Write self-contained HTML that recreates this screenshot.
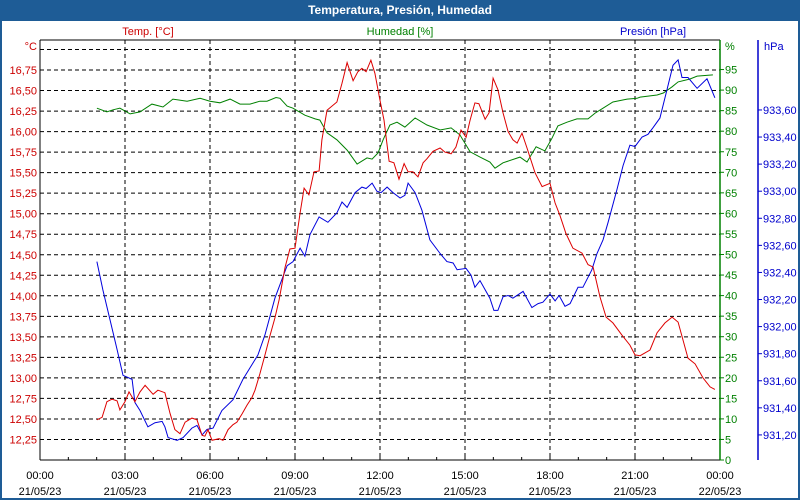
<!DOCTYPE html>
<html><head><meta charset="utf-8"><style>
html,body{margin:0;padding:0;background:#1e5c96;}
svg{display:block;font-family:"Liberation Sans",sans-serif;}
</style></head><body>
<svg id="chart" width="800" height="500" viewBox="0 0 800 500" xmlns="http://www.w3.org/2000/svg">
<rect x="0" y="0" width="800" height="500" fill="#1e5c96"/>
<rect x="2" y="21" width="796" height="477" fill="#ffffff"/>
<text x="400" y="14" text-anchor="middle" fill="#ffffff" font-size="12" font-weight="bold">Temperatura, Presión, Humedad</text>
<text x="148" y="35" text-anchor="middle" fill="#cc0000" font-size="11">Temp. [°C]</text>
<text x="400" y="35" text-anchor="middle" fill="#008000" font-size="11">Humedad [%]</text>
<text x="653" y="35" text-anchor="middle" fill="#0000cc" font-size="11">Presión [hPa]</text>
<text x="37" y="50" text-anchor="end" fill="#cc0000" font-size="11">°C</text>
<text x="725" y="50" fill="#008000" font-size="11">%</text>
<text x="764" y="50" fill="#0000cc" font-size="11">hPa</text>
<g id="grid"></g>
<g id="axes"></g>
<g id="series"></g>
</svg>
<script>
const tempTimes=[2.01,2.19,2.36,2.54,2.72,2.82,3.00,3.14,3.35,3.53,3.71,3.99,4.16,4.41,4.59,4.76,4.94,5.12,5.36,5.54,5.72,5.82,5.93,6.07,6.32,6.46,6.64,6.81,6.95,7.13,7.31,7.48,7.59,7.76,7.94,8.12,8.29,8.44,8.65,8.82,9.00,9.18,9.32,9.49,9.67,9.85,9.95,10.13,10.48,10.66,10.84,11.05,11.22,11.36,11.51,11.68,11.82,12.00,12.14,12.32,12.49,12.67,12.85,12.99,13.16,13.34,13.52,13.66,13.87,14.12,14.29,14.51,14.68,14.86,15.04,15.18,15.35,15.49,15.71,15.85,15.99,16.16,16.34,16.52,16.69,16.84,17.01,17.19,17.47,17.72,18.00,18.18,18.35,18.56,18.81,19.13,19.34,19.52,19.76,19.98,20.22,20.54,20.82,21.00,21.18,21.53,21.78,22.06,22.31,22.52,22.87,23.12,23.40,23.65,23.82];
const tempValues=[12.49,12.52,12.71,12.74,12.72,12.61,12.71,12.83,12.71,12.83,12.91,12.80,12.85,12.82,12.57,12.37,12.32,12.46,12.51,12.49,12.30,12.29,12.37,12.24,12.26,12.24,12.37,12.43,12.46,12.56,12.67,12.76,12.85,13.05,13.28,13.52,13.73,13.95,14.35,14.57,14.58,15.01,15.31,15.23,15.51,15.52,15.90,16.26,16.36,16.59,16.84,16.62,16.73,16.77,16.73,16.87,16.71,16.38,16.14,15.64,15.62,15.42,15.61,15.51,15.51,15.45,15.62,15.67,15.76,15.80,15.75,15.73,15.81,16.02,15.93,16.14,16.35,16.34,16.15,16.23,16.65,16.51,16.23,16.00,15.90,15.86,15.98,15.80,15.50,15.33,15.37,15.13,14.98,14.76,14.58,14.52,14.38,14.35,13.99,13.74,13.67,13.52,13.40,13.28,13.27,13.34,13.55,13.67,13.74,13.68,13.24,13.17,13.00,12.89,12.86];
const humTimes=[2.01,2.36,2.58,2.82,3.18,3.53,3.95,4.34,4.69,5.19,5.65,6.00,6.35,6.71,7.06,7.41,7.76,8.01,8.33,8.47,8.72,8.93,9.35,9.71,9.88,10.13,10.48,10.84,11.19,11.54,11.72,11.93,12.11,12.35,12.60,12.88,13.24,13.66,14.12,14.51,14.82,15.18,15.53,15.88,16.06,16.34,16.94,17.19,17.51,17.82,18.07,18.28,18.60,18.95,19.34,19.59,19.87,20.22,20.72,21.07,21.18,21.78,22.00,22.31,22.52,22.94,23.19,23.75];
const humValues=[85.6,84.7,85.2,85.6,84.2,84.7,86.6,85.9,87.8,87.3,88.0,87.3,86.9,87.8,86.6,86.6,87.3,87.3,88.2,88.0,86.1,85.6,83.9,83.0,82.7,79.6,77.9,75.4,72.0,73.5,73.2,74.7,77.9,81.5,82.2,81.0,83.2,81.5,80.3,80.8,79.1,75.0,73.7,72.5,71.0,72.3,73.7,72.5,76.2,75.2,78.3,81.3,82.2,83.0,83.0,84.4,85.6,87.1,87.8,88.0,88.3,88.8,89.3,90.8,92.0,92.7,93.4,93.7];
const presTimes=[2.01,2.22,2.47,2.72,2.93,3.25,3.35,3.53,3.81,4.06,4.31,4.41,4.52,4.84,5.05,5.36,5.54,5.72,5.89,6.11,6.42,6.81,7.16,7.69,7.94,8.29,8.47,8.72,8.93,9.18,9.35,9.53,9.85,10.16,10.48,10.66,10.84,11.12,11.36,11.51,11.72,11.89,12.04,12.25,12.46,12.71,12.88,12.99,13.24,13.48,13.76,14.12,14.36,14.58,14.72,15.04,15.21,15.35,15.53,15.88,16.02,16.16,16.34,16.52,16.69,17.05,17.36,17.58,17.75,18.00,18.18,18.32,18.53,18.71,18.99,19.16,19.48,19.66,19.87,20.05,20.36,20.58,20.82,21.00,21.25,21.46,21.64,21.88,22.13,22.34,22.52,22.66,22.87,23.19,23.54,23.82];
const presValues=[932.48,932.27,932.05,931.83,931.64,931.61,931.44,931.38,931.26,931.29,931.30,931.26,931.18,931.16,931.18,931.25,931.27,931.20,931.24,931.25,931.38,931.46,931.61,931.79,931.94,932.21,932.31,932.45,932.48,932.58,932.52,932.68,932.81,932.77,932.84,932.92,932.88,932.99,933.03,933.02,933.06,933.00,932.99,933.03,932.99,932.95,932.97,933.06,932.99,932.86,932.64,932.54,932.48,932.47,932.42,932.43,932.38,932.29,932.34,932.21,932.12,932.12,932.22,932.23,932.21,932.26,932.14,932.17,932.18,932.24,932.19,932.23,932.15,932.17,932.29,932.29,932.42,932.54,932.64,932.77,933.01,933.19,933.34,933.33,933.40,933.42,933.47,933.54,933.75,933.93,933.97,933.84,933.84,933.76,933.83,933.69];
const tempTicks=["12,25","12,50","12,75","13,00","13,25","13,50","13,75","14,00","14,25","14,50","14,75","15,00","15,25","15,50","15,75","16,00","16,25","16,50","16,75"];
const humTicks=["0","5","10","15","20","25","30","35","40","45","50","55","60","65","70","75","80","85","90","95"];
const presTicks=["931,20","931,40","931,60","931,80","932,00","932,20","932,40","932,60","932,80","933,00","933,20","933,40","933,60"];
const timeTicks=["00:00","03:00","06:00","09:00","12:00","15:00","18:00","21:00","00:00"];
const dateTicks=["21/05/23","21/05/23","21/05/23","21/05/23","21/05/23","21/05/23","21/05/23","21/05/23","22/05/23"];

const X0=40,X1=720,YB=460;
const xs=t=>X0+t*(X1-X0)/24;
const yT=v=>YB-(v-12)*82.1;
const yH=v=>YB-v*4.11;
const yP=v=>462-(v-931)*135.4;
const num=s=>parseFloat(s.replace(',','.'));
const NS='http://www.w3.org/2000/svg';
function mk(tag,attrs,parent,txt){const e=document.createElementNS(NS,tag);for(const k in attrs)e.setAttribute(k,attrs[k]);if(txt!==undefined)e.textContent=txt;parent.appendChild(e);return e;}
const grid=document.getElementById('grid'),axes=document.getElementById('axes'),series=document.getElementById('series');

// horizontal grid (temperature 12.25..17.00)
for(let i=1;i<=20;i++){const y=yT(12+i*0.25);
 const l=mk('line',{x1:X0,x2:X1,y1:y,y2:y,stroke:'#000','stroke-width':1,'stroke-dasharray':'4,3'},grid);
 
 }
// vertical grid
for(let h=3;h<24;h+=3){const x=xs(h);
 const l=mk('line',{x1:x,x2:x,y1:40,y2:YB,stroke:'#000','stroke-width':1,'stroke-dasharray':'4,3'},grid);
 
 }
// axis lines
let a=mk('line',{x1:X0,x2:X0,y1:40,y2:YB,stroke:'#000'},axes);


a=mk('line',{x1:X0,x2:X1,y1:40,y2:40,stroke:'#000'},axes);


a=mk('line',{x1:X0,x2:X1,y1:YB,y2:YB,stroke:'#000'},axes);


a=mk('line',{x1:X1,x2:X1,y1:40,y2:YB,stroke:'#008000','stroke-width':1.5},axes);


a=mk('line',{x1:758,x2:758,y1:40,y2:YB,stroke:'#0000cc','stroke-width':1.5},axes);


// x minor ticks
for(let h=1;h<24;h++){const x=xs(h);
 const t=mk('line',{x1:x,x2:x,y1:YB,y2:YB-3,stroke:'#000'},axes);
 
 }
// x labels
timeTicks.forEach((s,i)=>{const x=xs(i*3);
 const t=mk('text',{x:x,y:479,'text-anchor':'middle','font-size':11,fill:'#000'},axes,s);
 
 
 const d=mk('text',{x:x,y:495,'text-anchor':'middle','font-size':11,fill:'#000'},axes,dateTicks[i]);
 
 });
// temp labels
tempTicks.forEach(s=>{const t=mk('text',{x:37,y:yT(num(s))+4,'text-anchor':'end','font-size':11,fill:'#cc0000'},axes,s);
 
 });
// humidity labels
humTicks.forEach(s=>{const y=yH(num(s));
 const k=mk('line',{x1:X1,x2:X1+4,y1:y,y2:y,stroke:'#008000'},axes);
 
 
 const t=mk('text',{x:725,y:y+4,'font-size':11,fill:'#008000'},axes,s);
 
 });
// pressure labels
presTicks.forEach(s=>{const y=yP(num(s));
 const k=mk('line',{x1:758,x2:762,y1:y,y2:y,stroke:'#0000cc'},axes);
 
 
 const t=mk('text',{x:763,y:y+4,'font-size':11,fill:'#0000cc'},axes,s);
 
 });
// series
function pts(ts,vs,f){return ts.map((t,i)=>xs(t).toFixed(1)+','+f(vs[i]).toFixed(1)).join(' ');}
let p=mk('polyline',{points:pts(humTimes,humValues,yH),fill:'none',stroke:'#008000','stroke-width':1},series);


p=mk('polyline',{points:pts(presTimes,presValues,yP),fill:'none',stroke:'#0000dd','stroke-width':1},series);


p=mk('polyline',{points:pts(tempTimes,tempValues,yT),fill:'none',stroke:'#dd0000','stroke-width':1},series);


</script>
</body></html>
